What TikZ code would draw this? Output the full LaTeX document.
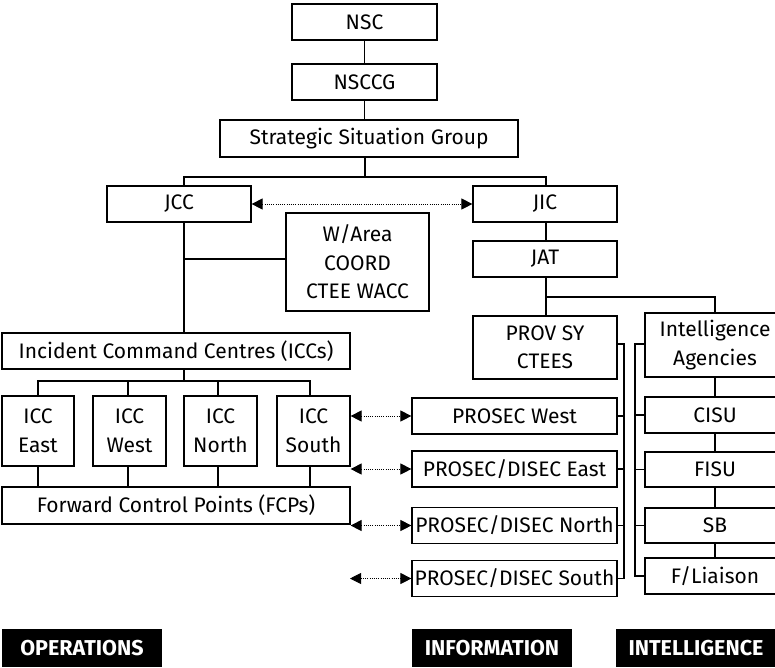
\documentclass[tikz,border=0pt]{standalone}
\usepackage{fontspec}
\setmainfont{Fira Sans}
\usetikzlibrary{arrows.meta}
\begin{document}
\begin{tikzpicture}[x=1pt,y=-1pt,
  box/.style={draw, line width=1.2pt, inner sep=0pt, align=center,
    font=\fontsize{21}{28.5}\selectfont},
  link/.style={line width=1.2pt},
  dotarrow/.style={line width=0.9pt, dash pattern=on 1pt off 1.2pt,
    {Triangle[length=11pt,width=11pt]}-{Triangle[length=11pt,width=11pt]}},
  tag/.style={fill=black, text=white, inner sep=0pt, minimum width=160pt,
    minimum height=38pt, font=\fontsize{21.5}{24}\selectfont\bfseries}
]
\fill[white] (0,0) rectangle (775,667);
% top chain
\node[box, minimum width=145pt, minimum height=36pt] (nsc) at (364.5,22) {NSC};
\node[box, minimum width=145pt, minimum height=36pt] (nsccg) at (364.5,82) {NSCCG};
\node[box, minimum width=298pt, minimum height=37pt] (ssg) at (369,138.5) {Strategic Situation Group};
\node[box, minimum width=144pt, minimum height=36pt] (jcc) at (179,204) {JCC};
\node[box, minimum width=144pt, minimum height=36pt] (jic) at (545,204) {JIC};
\node[box, minimum width=144pt, minimum height=36pt] (jat) at (545,259) {JAT};
\node[box, minimum width=143pt, minimum height=98pt] (warea) at (357.5,262) {W/Area\\COORD\\CTEE WACC};
% operations
\node[box, minimum width=348pt, minimum height=36pt] (iccs) at (176,351) {Incident Command Centres (ICCs)};
\node[box, minimum width=72pt, minimum height=70pt] (icce) at (38,431) {ICC\\East};
\node[box, minimum width=73pt, minimum height=70pt] (iccw) at (129.5,431) {ICC\\West};
\node[box, minimum width=73pt, minimum height=70pt] (iccn) at (220.5,431) {ICC\\North};
\node[box, minimum width=73pt, minimum height=70pt] (iccs2) at (313.5,431) {ICC\\South};
\node[box, minimum width=348pt, minimum height=37pt] (fcp) at (176,505.5) {Forward Control Points (FCPs)};
% information
\node[box, minimum width=144pt, minimum height=63pt] (prov) at (545,347.5) {PROV SY\\CTEES};
\node[box, minimum width=205pt, minimum height=36pt] (pw) at (514.5,416) {PROSEC West};
\node[box, minimum width=205pt, minimum height=36pt] (pe) at (514.5,469) {PROSEC/DISEC East};
\node[box, minimum width=205pt, minimum height=36pt] (pn) at (514.5,525.5) {PROSEC/DISEC North};
\node[box, minimum width=205pt, minimum height=36pt] (ps) at (514.5,578.5) {PROSEC/DISEC South};
% intelligence
\node[box, minimum width=140pt, minimum height=64pt] (intel) at (715,345) {Intelligence\\Agencies};
\node[box, minimum width=140pt, minimum height=36pt] (cisu) at (715,415) {CISU};
\node[box, minimum width=140pt, minimum height=35pt] (fisu) at (715,469.5) {FISU};
\node[box, minimum width=140pt, minimum height=35pt] (sb) at (715,525.5) {SB};
\node[box, minimum width=140pt, minimum height=36pt] (fl) at (715,576) {F/Liaison};
% tags
\node[tag] (tops) at (82,648) {OPERATIONS};
\node[tag] (tinfo) at (492,648) {INFORMATION};
\node[tag] (tintel) at (696,648) {INTELLIGENCE};

% connectors
\draw[link] (nsc) -- (nsccg);
\draw[link] (nsccg) -- (nsccg |- ssg.north);
\coordinate (ssgbar) at (365,177);
\draw[link] (365,157) -- (ssgbar);
\draw[link] (ssgbar) -- (184,177) -- (184,186);
\draw[link] (ssgbar) -- (546,177) -- (546,186);
\coordinate (jcctrunk) at (184,222);
\draw[link] (jcctrunk) -- (184,333);
\draw[link] (184,259) -- (286,259);
\draw[link] (184,369) -- (184,381);
\draw[link] (38,396) -- (38,381) -- (310,381) -- (310,396);
\draw[link] (128,381) -- (128,396);
\draw[link] (218,381) -- (218,396);
\draw[link] (38,466) -- (38,487);
\draw[link] (128,466) -- (128,487);
\draw[link] (218,466) -- (218,487);
\draw[link] (310,466) -- (310,487);
\draw[link] (546,222) -- (546,241);
\draw[link] (546,277) -- (546,316);
\draw[link] (546,297) -- (715,297) -- (715,313);
\draw[link] (intel) -- (cisu);
\draw[link] (cisu) -- (fisu);
\draw[link] (fisu) -- (sb);
\draw[link] (sb) -- (fl);
% brackets
\coordinate (lb) at (624,0);
\coordinate (rb) at (635,0);
\draw[link] (617,344) -- (624,344) -- (ps.east -| lb) -- (ps.east);
\draw[link] (pw.east) -- (pw.east -| lb);
\draw[link] (pe.east) -- (pe.east -| lb);
\draw[link] (pn.east) -- (pn.east -| lb);
\draw[link] (645,344) -- (635,344) -- (fl.west -| rb) -- (fl.west);
\draw[link] (cisu.west) -- (cisu.west -| rb);
\draw[link] (fisu.west) -- (fisu.west -| rb);
\draw[link] (sb.west) -- (sb.west -| rb);
% dotted arrows
\draw[dotarrow] (jcc.east) -- (jic.west);
\draw[dotarrow] (iccs2.east |- pw.west) -- (pw.west);
\draw[dotarrow] (iccs2.east |- pe.west) -- (pe.west);
\draw[dotarrow] (fcp.east |- pn.west) -- (pn.west);
\coordinate (freeS) at (350,578.5);
\draw[dotarrow] (freeS) -- (ps.west);
\pgfresetboundingbox
\useasboundingbox (0,0) rectangle (775,667);
\end{tikzpicture}
\end{document}
